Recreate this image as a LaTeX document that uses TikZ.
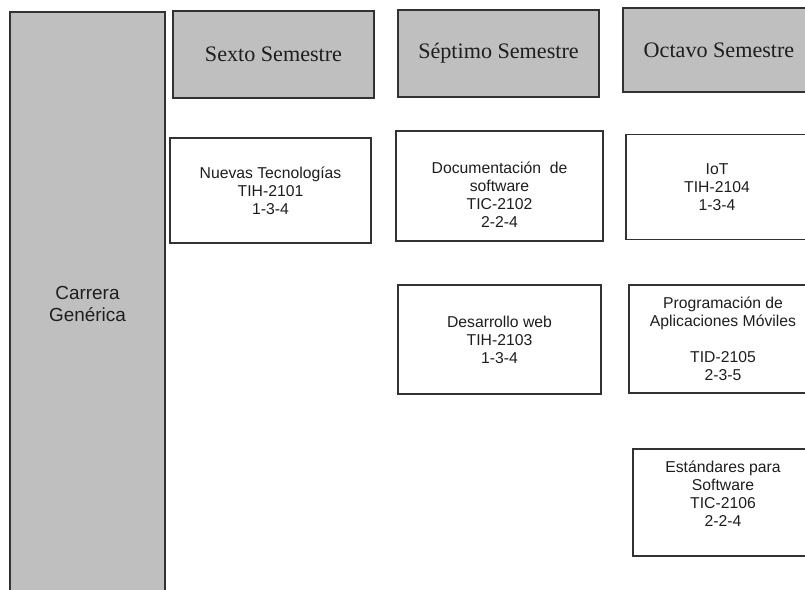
\documentclass[tikz,border=0pt]{standalone}
\usepackage{fontspec}
\usepackage{xcolor}
\usepackage{tikz}
\setmainfont{Liberation Sans}
\newfontfamily\headfont{Liberation Serif}
\definecolor{boxgray}{RGB}{191, 191, 191}
\definecolor{edgegray}{RGB}{50, 50, 50}
\definecolor{textgray}{RGB}{30, 30, 30}

\begin{document}
\begin{tikzpicture}[x=0.75pt, y=-0.75pt,
  boxsize/.style 2 args={minimum width=#1*0.75pt, minimum height=#2*0.75pt},
  every node/.style={text=textgray, inner sep=0pt, align=center},
  career/.style={draw=edgegray, fill=boxgray, line width=0.9pt,
    font=\fontsize{14.2pt}{16.5pt}\selectfont},
  semester/.style={draw=edgegray, fill=boxgray, line width=0.9pt,
    font=\headfont\fontsize{16.6pt}{19pt}\selectfont},
  course/.style={draw=edgegray, fill=white, line width=0.9pt,
    font=\fontsize{11.8pt}{13.5pt}\selectfont}]
\useasboundingbox (0,0) rectangle (805,589);
\clip (0,0) rectangle (805,589);
\node[career, boxsize={155}{584}] (carrera) at (87.5,304) {Carrera\\Genérica};
\node[semester, boxsize={201}{87}] (sexto) at (273.5,54.5) {Sexto Semestre};
\node[semester, boxsize={201}{87}] (septimo) at (498.5,53.5) {Séptimo Semestre};
\node[semester, boxsize={192}{84}] (octavo) at (719,50) {Octavo Semestre};
\node[course, boxsize={201}{105}] (nuevas) at (270.5,190.5) {Nuevas Tecnologías\\TIH-2101\\1-3-4};
\node[course, boxsize={207}{110}] (docsw) at (499.5,186) {~\\[7.5pt]Documentación\ \ de\\software\\TIC-2102\\2-2-4};
\node[course, boxsize={182}{105}] (iot) at (717,187) {IoT\\TIH-2104\\1-3-4};
\node[course, boxsize={203}{109}] (web) at (499.5,339.5) {Desarrollo web\\TIH-2103\\1-3-4};
\node[course, boxsize={188}{108}] (moviles) at (723,339) {Programación de\\Aplicaciones Móviles\\~\\TID-2105\\2-3-5};
\node[course, boxsize={180}{107}] (estandares) at (723,502.5) {Estándares para\\Software\\TIC-2106\\2-2-4\\~};
\end{tikzpicture}
\end{document}
